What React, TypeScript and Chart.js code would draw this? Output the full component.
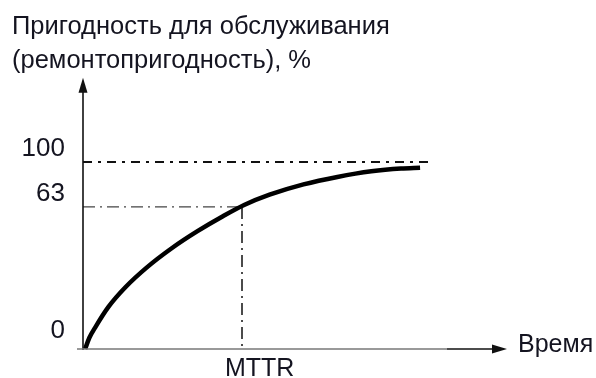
import React, { useEffect, useRef } from 'react';
import { Chart, registerables } from 'chart.js';

Chart.register(...registerables);

// ---- data ----
const titleLines = ['Пригодность для обслуживания', '(ремонтопригодность), %'];
const xAxisLabel = 'Время';
const mttrLabel = 'MTTR';
// time (arbitrary units, 0..100 = axis length) and availability curve values
const curveX = [0.5, 1.5, 3, 6, 10, 15, 21, 27, 33, 38, 44, 52, 60, 68, 75, 79.5];
const curveY = [0, 6, 12, 22.5, 33, 43.5, 54, 63, 71, 77, 82.5, 88, 92, 95, 96.5, 96.9];
// y reference levels as placed in the schematic, with their printed labels
const yTickValues = [0, 76, 100];
const yTickLabels = ['0', '63', '100'];
const mttrX = 37.5;
const fullLevelEndX = 81.8;
const xAxisEnd = 100;
const yAxisTop = 145;

const FONT = '"Liberation Sans", Arial, sans-serif';

export default function App() {
  const ref = useRef<HTMLCanvasElement | null>(null);

  useEffect(() => {
    const canvas = ref.current;
    if (!canvas) return;

    const schematic = {
      id: 'schematic',
      beforeDatasetsDraw(chart: any) {
        const ctx = chart.ctx as CanvasRenderingContext2D;
        const xs = chart.scales.x;
        const ys = chart.scales.y;
        const x0 = xs.getPixelForValue(0);
        ctx.save();
        // 100 % level line
        const y100 = ys.getPixelForValue(yTickValues[2]);
        ctx.strokeStyle = '#111';
        ctx.lineWidth = 2;
        ctx.setLineDash([9, 6, 3, 6]);
        ctx.beginPath();
        ctx.moveTo(x0, y100);
        ctx.lineTo(xs.getPixelForValue(fullLevelEndX), y100);
        ctx.stroke();
        // 63 % level line
        const y63 = ys.getPixelForValue(yTickValues[1]);
        const xm = xs.getPixelForValue(mttrX);
        ctx.strokeStyle = '#444';
        ctx.lineWidth = 1.2;
        ctx.setLineDash([12, 5, 2, 5]);
        ctx.beginPath();
        ctx.moveTo(x0, y63);
        ctx.lineTo(xm, y63);
        ctx.stroke();
        // MTTR vertical
        ctx.strokeStyle = '#111';
        ctx.lineWidth = 1.5;
        ctx.beginPath();
        ctx.moveTo(xm, y63);
        ctx.lineTo(xm, ys.getPixelForValue(0));
        ctx.stroke();
        ctx.restore();
      },
      afterDraw(chart: any) {
        const ctx = chart.ctx as CanvasRenderingContext2D;
        const xs = chart.scales.x;
        const ys = chart.scales.y;
        const x0 = xs.getPixelForValue(0);
        const y0 = ys.getPixelForValue(0);
        ctx.save();
        ctx.setLineDash([]);
        // y axis
        const yTop = ys.getPixelForValue(yAxisTop);
        ctx.strokeStyle = '#111';
        ctx.lineWidth = 1.6;
        ctx.beginPath();
        ctx.moveTo(x0, y0 + 1);
        ctx.lineTo(x0, yTop + 10);
        ctx.stroke();
        ctx.fillStyle = '#111';
        ctx.beginPath();
        ctx.moveTo(x0, yTop);
        ctx.lineTo(x0 - 4.5, yTop + 15);
        ctx.lineTo(x0 + 4.5, yTop + 15);
        ctx.closePath();
        ctx.fill();
        // x axis
        const xEnd = xs.getPixelForValue(xAxisEnd);
        ctx.strokeStyle = '#777';
        ctx.lineWidth = 1.5;
        ctx.beginPath();
        ctx.moveTo(x0 - 6, y0);
        ctx.lineTo(xEnd - 60, y0);
        ctx.stroke();
        ctx.strokeStyle = '#111';
        ctx.beginPath();
        ctx.moveTo(xEnd - 60, y0);
        ctx.lineTo(xEnd - 10, y0);
        ctx.stroke();
        ctx.beginPath();
        ctx.moveTo(xEnd, y0);
        ctx.lineTo(xEnd - 15, y0 - 4.5);
        ctx.lineTo(xEnd - 15, y0 + 4.5);
        ctx.closePath();
        ctx.fill();

        // texts
        ctx.fillStyle = '#141420';
        ctx.textBaseline = 'alphabetic';
        ctx.font = `25.5px ${FONT}`;
        ctx.textAlign = 'left';
        ctx.fillText(titleLines[0], 12, 34);
        ctx.fillText(titleLines[1], 12, 68);

        ctx.font = `26px ${FONT}`;
        ctx.textAlign = 'right';
        yTickValues.forEach((v, i) => {
          const py = ys.getPixelForValue(v);
          ctx.fillText(yTickLabels[i], x0 - 18, py - (v === 0 ? 11 : 6));
        });

        ctx.textAlign = 'left';
        ctx.font = `25px ${FONT}`;
        ctx.fillText(xAxisLabel, xEnd + 11, y0 + 3);
        ctx.fillText(mttrLabel, xs.getPixelForValue(mttrX) - 17, y0 + 27);
        ctx.restore();
      },
    };

    const chart = new Chart(canvas, {
      type: 'line',
      data: {
        datasets: [
          {
            data: curveX.map((x, i) => ({ x, y: curveY[i] })),
            borderColor: '#000',
            borderWidth: 4.5,
            pointRadius: 0,
            cubicInterpolationMode: 'monotone',
            borderCapStyle: 'butt',
            fill: false,
            clip: false,
          } as any,
        ],
      },
      options: {
        animation: false,
        responsive: false,
        events: [],
        layout: { padding: { left: 83, right: 89, top: 162, bottom: 29 } },
        plugins: { legend: { display: false }, tooltip: { enabled: false }, title: { display: false } },
        scales: {
          x: { type: 'linear', min: 0, max: 100, display: false },
          y: { type: 'linear', min: 0, max: 100, display: false },
        },
      },
      plugins: [schematic],
    });
    return () => chart.destroy();
  }, []);

  return (
    <div style={{ position: 'fixed', left: 0, top: 0, width: 596, height: 378, background: '#fff' }}>
      <canvas ref={ref} width={596} height={378} style={{ width: 596, height: 378, display: 'block' }} />
    </div>
  );
}
